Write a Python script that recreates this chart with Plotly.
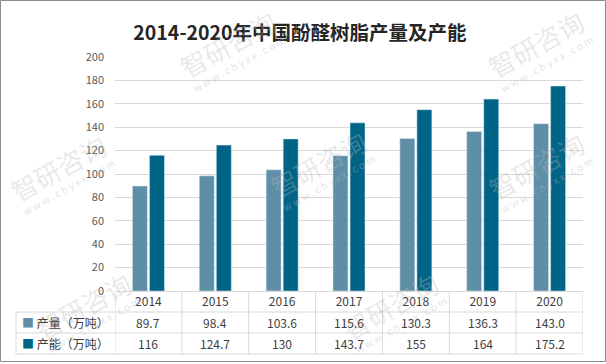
import math
import plotly.graph_objects as go

years = ["2014", "2015", "2016", "2017", "2018", "2019", "2020"]
output_vals = [89.7, 98.4, 103.6, 115.6, 130.3, 136.3, 143.0]
capacity_vals = [116, 124.7, 130, 143.7, 155, 164, 175.2]
output_labels = ["89.7", "98.4", "103.6", "115.6", "130.3", "136.3", "143.0"]
capacity_labels = ["116", "124.7", "130", "143.7", "155", "164", "175.2"]
series_names = ["产量（万吨）", "产能（万吨）"]
title_text = "2014-2020年中国酚醛树脂产量及产能"
y_ticks = [0, 20, 40, 60, 80, 100, 120, 140, 160, 180, 200]
wm_text = "智研咨询"
wm_url = "w w w . c h y x x . c o m"

C1 = "#5e8fa7"
C2 = "#006487"
GRID = "#d9d9d9"
TXT = "#404040"
FONT = "Noto Sans CJK SC, Noto Sans, sans-serif"

fig = go.Figure()
fig.add_trace(go.Bar(x=years, y=output_vals, name=series_names[0], marker_color=C1))
fig.add_trace(go.Bar(x=years, y=capacity_vals, name=series_names[1], marker_color=C2))

W, H = 606, 364
L, R, T, B = 115, 23, 57, 73
plot_w = W - L - R
plot_h = H - T - B
row_h = 21
r1 = -row_h / plot_h
r2 = -2 * row_h / plot_h
r3 = -3 * row_h / plot_h
left_edge = -(L - 16) / plot_w

shapes = []
for yy in [r1, r2, r3]:
    shapes.append(dict(type="line", xref="paper", yref="paper", x0=left_edge, x1=1, y0=yy, y1=yy,
                       line=dict(color=GRID, width=1)))
n = len(years)
for i in range(n + 1):
    xx = i - 0.5
    shapes.append(dict(type="line", xref="x", yref="paper", x0=xx, x1=xx, y0=0, y1=r3,
                       line=dict(color=GRID, width=1)))
shapes.append(dict(type="line", xref="paper", yref="paper", x0=left_edge, x1=left_edge, y0=r1, y1=r3,
                   line=dict(color=GRID, width=1)))
# outer border of the picture
shapes.append(dict(type="rect", xref="paper", yref="paper",
                   x0=-(L - 0.5) / plot_w, x1=1 + (R - 0.5) / plot_w,
                   y0=-(B - 2.5) / plot_h, y1=1 + (T - 0.5) / plot_h,
                   line=dict(color="#8c8c8c", width=1), fillcolor="rgba(0,0,0,0)", layer="above"))

annotations = []

# faint watermarks (centres in picture pixels, kept inside the picture)
wm_centres = [(228, 44), (536, 44), (58, 167), (318, 163), (536, 165), (390, 305), (83, 305)]
ang = 29
for px, py in wm_centres:
    annotations.append(dict(x=(px - L) / plot_w, y=(T + plot_h - py) / plot_h, xref="paper", yref="paper",
                            xanchor="center", yanchor="middle",
                            showarrow=False, textangle=-ang, text=wm_text,
                            font=dict(size=26, color="rgba(185,185,185,0.33)", family=FONT)))
    ux = px + 22 * math.sin(math.radians(ang))
    uy = py + 22 * math.cos(math.radians(ang))
    annotations.append(dict(x=(ux - L) / plot_w, y=(T + plot_h - uy) / plot_h, xref="paper", yref="paper",
                            xanchor="center", yanchor="middle",
                            showarrow=False, textangle=-ang, text=wm_url,
                            font=dict(size=10, color="rgba(185,185,185,0.42)", family=FONT)))

for i in range(n):
    annotations.append(dict(x=i, y=(r1 + r2) / 2, xref="x", yref="paper", yanchor="middle",
                            text=output_labels[i],
                            showarrow=False, font=dict(size=12, color=TXT, family=FONT)))
    annotations.append(dict(x=i, y=(r2 + r3) / 2, xref="x", yref="paper", yanchor="middle",
                            text=capacity_labels[i],
                            showarrow=False, font=dict(size=12, color=TXT, family=FONT)))
for name, col, yy in [(series_names[0], C1, (r1 + r2) / 2), (series_names[1], C2, (r2 + r3) / 2)]:
    annotations.append(dict(x=left_edge + 4 / plot_w, y=yy, xref="paper", yref="paper",
                            xanchor="left", yanchor="middle",
                            text=f"<span style='color:{col}'>■</span> {name}",
                            showarrow=False, font=dict(size=12, color=TXT, family=FONT)))

fig.update_layout(
    width=W, height=H,
    margin=dict(l=L, r=R, t=T, b=B),
    paper_bgcolor="white", plot_bgcolor="white",
    showlegend=False,
    barmode="group", bargap=0.49, bargroupgap=0.12,
    title=dict(text=f"<b>{title_text}</b>", x=300 / W, xref="container", xanchor="center",
               y=1 - 33 / H, yref="container", yanchor="middle",
               font=dict(size=19.5, color="#262626", family=FONT)),
    xaxis=dict(type="category", range=[-0.5, n - 0.5], showgrid=False, showline=False, ticks="",
               tickfont=dict(size=12, color=TXT, family=FONT), ticklabelstandoff=2),
    yaxis=dict(range=[0, 200], tickvals=y_ticks, showgrid=True, gridcolor=GRID, gridwidth=1,
               zeroline=True, zerolinecolor=GRID, zerolinewidth=1, showline=False, ticks="",
               tickfont=dict(size=11, color="#595959", family=FONT), ticklabelstandoff=10),
    shapes=shapes,
    annotations=annotations,
)

fig.write_html("out.html", config={"displayModeBar": False},
               post_script="document.body.style.margin='0';")
